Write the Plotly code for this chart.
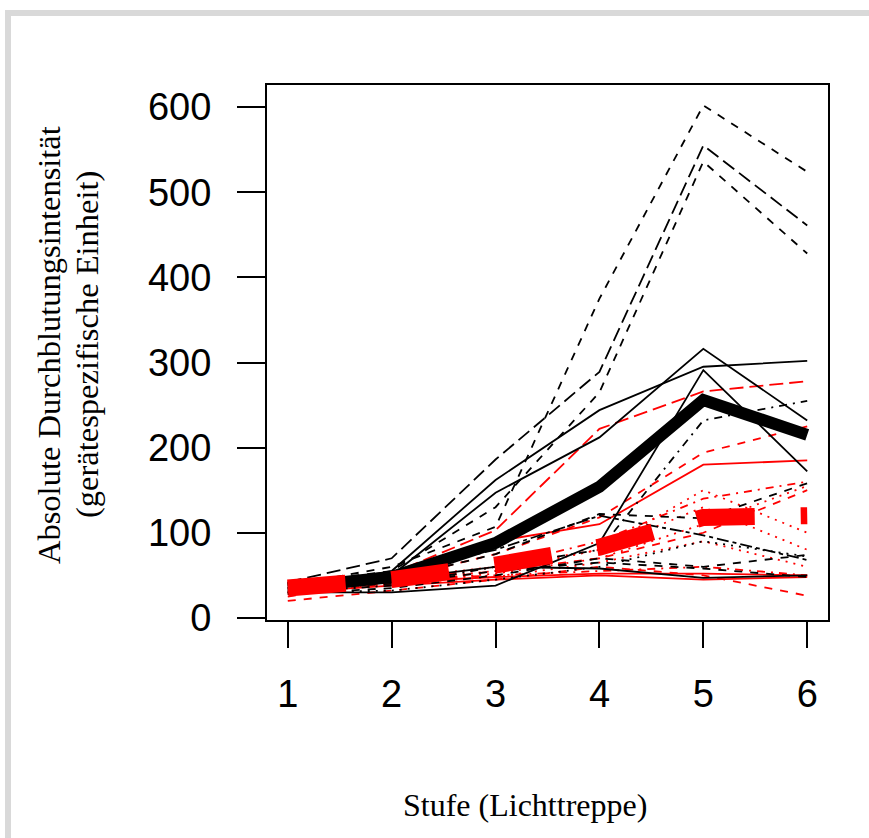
import plotly.graph_objects as go

stufen = [1, 2, 3, 4, 5, 6]
y_ticks = [0, 100, 200, 300, 400, 500, 600]

# Gruppe 1 (schwarz): individual curves
black_series = [
    ([38, 60, 107, 375, 602, 524], "dash"),
    ([42, 70, 186, 289, 555, 461], "longdash"),
    ([40, 55, 130, 265, 536, 428], "dash"),
    ([35, 55, 162, 244, 295, 302], "solid"),
    ([32, 50, 147, 212, 316, 232], "solid"),
    ([30, 30, 38, 88, 291, 172], "solid"),
    ([30, 38, 60, 80, 232, 255], "dotdash"),
    ([35, 45, 75, 122, 117, 158], "dash"),
    ([40, 52, 80, 120, 97, 68], "twodash"),
    ([28, 35, 50, 70, 60, 74], "dash"),
    ([33, 45, 60, 58, 47, 50], "solid"),
    ([30, 32, 45, 60, 90, 72], "dotted"),
    ([35, 40, 55, 65, 58, 48], "dash"),
]

# Gruppe 2 (rot): individual curves
red_series = [
    ([30, 52, 103, 222, 266, 278], "longdash"),
    ([25, 45, 75, 118, 194, 225], "dash"),
    ([30, 48, 90, 110, 180, 185], "solid"),
    ([28, 42, 60, 90, 140, 160], "dotdash"),
    ([30, 44, 55, 80, 150, 100], "dotted"),
    ([35, 46, 60, 80, 130, 80], "dotted"),
    ([32, 42, 52, 70, 110, 155], "dotted"),
    ([20, 32, 45, 60, 50, 26], "dash"),
    ([30, 38, 45, 50, 45, 48], "solid"),
    ([33, 42, 48, 52, 52, 50], "solid"),
    ([35, 44, 50, 55, 60, 50], "dotdash"),
    ([30, 40, 48, 65, 90, 60], "dotted"),
    ([28, 40, 55, 70, 100, 150], "dash"),
]

black_mean = [35, 48, 88, 154, 256, 215]
red_mean = [35, 45, 62, 83, 118, 120]

dash_map = {
    "solid": "solid",
    "dash": "8px,8px",
    "longdash": "14px,6px",
    "dotted": "2px,6px",
    "dotdash": "2px,6px,8px,6px",
    "twodash": "4px,4px,12px,4px",
}

fig = go.Figure()

for vals, lty in red_series:
    fig.add_trace(go.Scatter(x=stufen, y=vals, mode="lines",
                             line=dict(color="#ff0000", width=1.8, dash=dash_map[lty]),
                             showlegend=False, hoverinfo="skip"))
for vals, lty in black_series:
    fig.add_trace(go.Scatter(x=stufen, y=vals, mode="lines",
                             line=dict(color="#000000", width=1.8, dash=dash_map[lty]),
                             showlegend=False, hoverinfo="skip"))

fig.add_trace(go.Scatter(x=stufen, y=black_mean, mode="lines",
                         line=dict(color="#000000", width=12),
                         showlegend=False, hoverinfo="skip"))
fig.add_trace(go.Scatter(x=stufen, y=red_mean, mode="lines",
                         line=dict(color="#ff0000", width=17, dash="58px,46px"),
                         showlegend=False, hoverinfo="skip"))

L, R, T, B = 267, 41, 85, 218
W, H = 869, 838
pw, ph = W - L - R, H - T - B


def px(xp):
    return (xp - L) / pw


def py(yp):
    return (H - B - yp) / ph


fig.update_layout(
    width=W, height=H,
    margin=dict(l=L, r=R, t=T, b=B, pad=0),
    paper_bgcolor="white", plot_bgcolor="white",
    xaxis=dict(range=[0.8, 6.2], tickvals=stufen, ticktext=[str(s) for s in stufen],
               showgrid=False, zeroline=False, showline=True, mirror=True,
               linecolor="black", linewidth=2, ticks="outside", ticklen=26,
               tickwidth=2, tickcolor="black", ticklabelstandoff=13,
               tickfont=dict(family="Liberation Sans, Arial", size=38, color="black")),
    yaxis=dict(range=[-2.5, 626], tickvals=y_ticks, ticktext=[str(t) for t in y_ticks],
               showgrid=False, zeroline=False, showline=True, mirror=True,
               linecolor="black", linewidth=2, ticks="outside", ticklen=28,
               tickwidth=2, tickcolor="black", ticklabelstandoff=18,
               tickfont=dict(family="Liberation Sans, Arial", size=38, color="black")),
    annotations=[
        dict(text="Absolute Durchblutungsintensität", xref="paper", yref="paper",
             x=px(49), y=py(345), textangle=-90, showarrow=False,
             xanchor="center", yanchor="middle",
             font=dict(family="Liberation Serif, Times New Roman", size=32.5, color="black")),
        dict(text="(gerätespezifische Einheit)", xref="paper", yref="paper",
             x=px(87), y=py(345), textangle=-90, showarrow=False,
             xanchor="center", yanchor="middle",
             font=dict(family="Liberation Serif, Times New Roman", size=32.5, color="black")),
        dict(text="Stufe (Lichttreppe)", xref="paper", yref="paper",
             x=px(525), y=py(805), showarrow=False,
             xanchor="center", yanchor="middle",
             font=dict(family="Liberation Serif, Times New Roman", size=32, color="black")),
    ],
    shapes=[
        dict(type="rect", xref="paper", yref="paper", x0=px(5), x1=px(869),
             y0=py(16), y1=py(10), fillcolor="#d9d9d9", line=dict(width=0), layer="below"),
        dict(type="rect", xref="paper", yref="paper", x0=px(5), x1=px(11),
             y0=py(838), y1=py(10), fillcolor="#d9d9d9", line=dict(width=0), layer="below"),
    ],
)

fig.write_html("out.html")
